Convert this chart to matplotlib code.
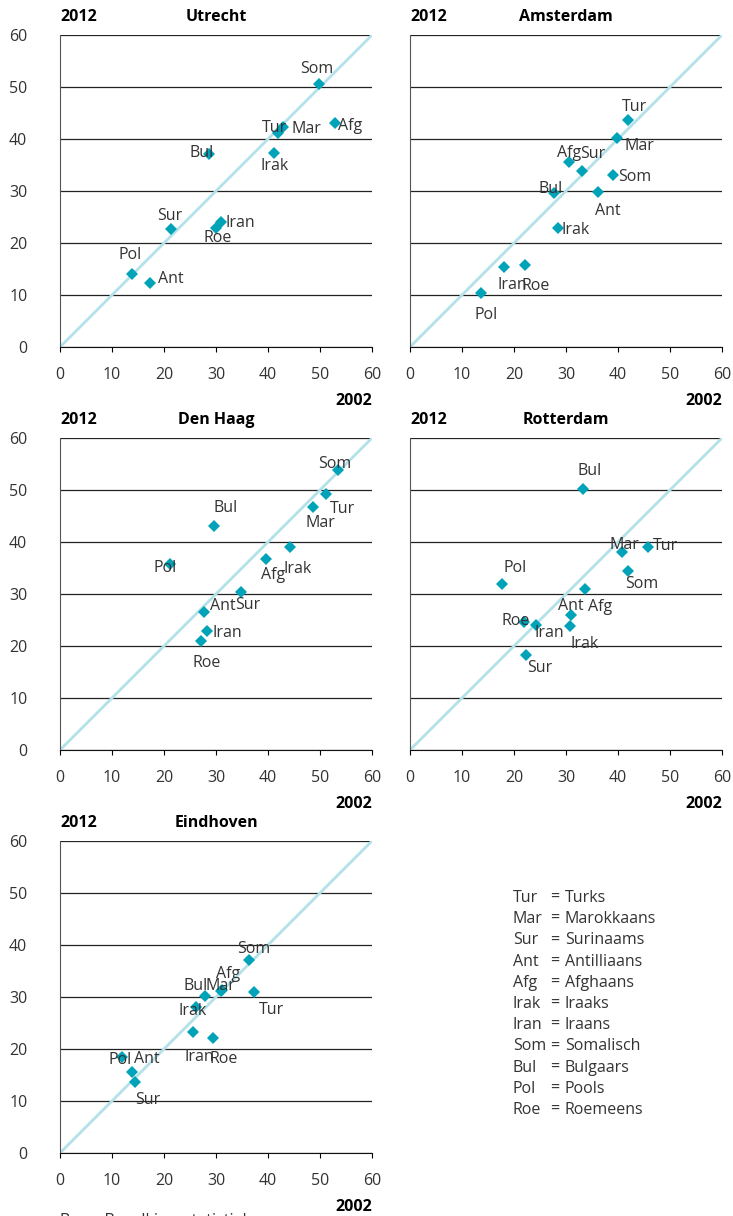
import matplotlib
matplotlib.use("Agg")
import matplotlib.pyplot as plt

plt.rcParams['font.family'] = ['Open Sans', 'DejaVu Sans']

# groups, in the order used for every city
groups = ['Tur', 'Mar', 'Sur', 'Ant', 'Afg', 'Irak', 'Iran', 'Som', 'Bul', 'Pol', 'Roe']
group_names = ['Turks', 'Marokkaans', 'Surinaams', 'Antilliaans', 'Afghaans', 'Iraaks',
               'Iraans', 'Somalisch', 'Bulgaars', 'Pools', 'Roemeens']

cities = ['Utrecht', 'Amsterdam', 'Den Haag', 'Rotterdam', 'Eindhoven']

# x = 2002, y = 2012
utrecht_2002 = [41.9, 42.9, 21.4, 17.4, 52.8, 41.1, 30.9, 49.9, 28.6, 13.9, 30.0]
utrecht_2012 = [41.2, 42.4, 22.7, 12.3, 43.0, 37.4, 24.0, 50.6, 37.1, 14.0, 22.8]

amsterdam_2002 = [41.9, 39.9, 33.0, 36.2, 30.6, 28.5, 18.0, 39.0, 27.6, 13.7, 22.1]
amsterdam_2012 = [43.6, 40.2, 33.8, 29.8, 35.6, 22.9, 15.3, 33.1, 29.7, 10.4, 15.7]

denhaag_2002 = [51.2, 48.6, 34.9, 27.7, 39.7, 44.2, 28.2, 53.4, 29.7, 21.2, 27.2]
denhaag_2012 = [49.2, 46.8, 30.3, 26.6, 36.7, 39.1, 22.9, 53.8, 43.1, 35.8, 20.9]

rotterdam_2002 = [45.7, 40.7, 22.4, 31.0, 33.7, 30.8, 24.3, 41.9, 33.3, 17.6, 22.0]
rotterdam_2012 = [39.1, 38.0, 18.2, 25.9, 31.0, 23.8, 24.1, 34.5, 50.2, 31.9, 24.7]

eindhoven_2002 = [37.3, 30.9, 14.5, 13.8, 31.2, 26.2, 25.6, 36.4, 27.9, 11.9, 29.4]
eindhoven_2012 = [30.9, 31.1, 13.7, 15.6, 31.4, 28.1, 23.2, 37.1, 30.1, 18.5, 22.2]

x_values = [utrecht_2002, amsterdam_2002, denhaag_2002, rotterdam_2002, eindhoven_2002]
y_values = [utrecht_2012, amsterdam_2012, denhaag_2012, rotterdam_2012, eindhoven_2012]

# label placement (pixels, text centre relative to marker), same group order
label_offsets = [
    [(-3, 5), (23, -2), (-2, 13), (20, 4), (16, -3), (1, -13), (20, -1), (-3, 15), (-7, 1), (-2, 19), (2, -10)],
    [(7, 13), (22, -8), (11, 17), (10, -19), (0, 9), (17, -2), (9, -18), (22, -2), (-3, 4), (5, -22), (11, -21)],
    [(16, -15), (8, -16), (6, -13), (19, 6), (7, -16), (8, -22), (21, -2), (-3, 6), (11, 18), (-5, -4), (5, -22)],
    [(18, 1), (3, 7), (13, -13), (0, 9), (15, -18), (14, -18), (13, -8), (14, -13), (6, 18), (14, 16), (-9, 1)],
    [(18, -18), (0, 5), (12, -18), (15, 13), (6, 16), (-4, -4), (6, -25), (4, 11), (-9, 10), (-2, -3), (11, -21)],
]

W, H = 733, 1216
panel_topleft = [(60, 35), (410, 35), (60, 438), (410, 438), (60, 841)]
side = 312
lim = 60

diag_color = '#b3e1e9'
marker_color = '#00a3b7'
text_color = '#333333'
fs = 11.5

fig = plt.figure(figsize=(W / 100, H / 100), dpi=100)


def fx(px):
    return px / W


def fy(py):
    return 1 - py / H


for i, city in enumerate(cities):
    left, top = panel_topleft[i]
    ax = fig.add_axes([fx(left), fy(top + side), side / W, side / H])
    ax.set_xlim(0, lim)
    ax.set_ylim(0, lim)
    ax.set_xticks(range(0, lim + 1, 10))
    ax.set_yticks(range(0, lim + 1, 10))
    ax.yaxis.grid(True, color='#222222', linewidth=0.9)
    ax.set_axisbelow(True)
    for s in ['top', 'right']:
        ax.spines[s].set_visible(False)
    ax.spines['left'].set_color('#555555')
    ax.spines['bottom'].set_color('#111111')
    ax.tick_params(axis='x', direction='out', length=3.6, width=0.8, pad=10.5,
                   labelsize=fs, labelcolor=text_color)
    ax.tick_params(axis='y', length=0, pad=23.5, labelsize=fs, labelcolor=text_color)
    if left > 100:
        # right-hand column shares the scale with the left one, no labels
        ax.tick_params(axis='y', labelleft=False)

    ax.plot([0, lim], [0, lim], color=diag_color, linewidth=2, zorder=2)
    ax.plot(x_values[i], y_values[i], linestyle='none', marker='D', markersize=6.5,
            color=marker_color, markeredgewidth=0, zorder=3, clip_on=False)
    for g, xv, yv, off in zip(groups, x_values[i], y_values[i], label_offsets[i]):
        ax.annotate(g, (xv, yv), xytext=off, textcoords='offset pixels',
                    ha='center', va='center', fontsize=fs, color=text_color, zorder=4)

    fig.text(fx(left), fy(top - 18), '2012', ha='left', va='center',
             fontsize=fs, fontweight='bold', color='black')
    fig.text(fx(left + side / 2), fy(top - 18), city, ha='center', va='center',
             fontsize=fs, fontweight='bold', color='black')
    fig.text(fx(left + side), fy(top + side + 54), '2002', ha='right', va='center',
             fontsize=fs, fontweight='bold', color='black')

# legend of abbreviations
for k, (g, name) in enumerate(zip(groups, group_names)):
    y = 898 + k * 21.2
    fig.text(fx(513), fy(y), g, ha='left', va='center', fontsize=fs, color=text_color)
    fig.text(fx(550), fy(y), '=', ha='left', va='center', fontsize=fs, color=text_color)
    fig.text(fx(565), fy(y), name, ha='left', va='center', fontsize=fs, color=text_color)

# source line, cut off by the bottom edge as in the original
fig.text(fx(60), fy(1213), 'Bron: Bevolkingsstatistiek', ha='left', va='top',
         fontsize=fs, color=text_color)

fig.savefig('out.png', dpi=100)
